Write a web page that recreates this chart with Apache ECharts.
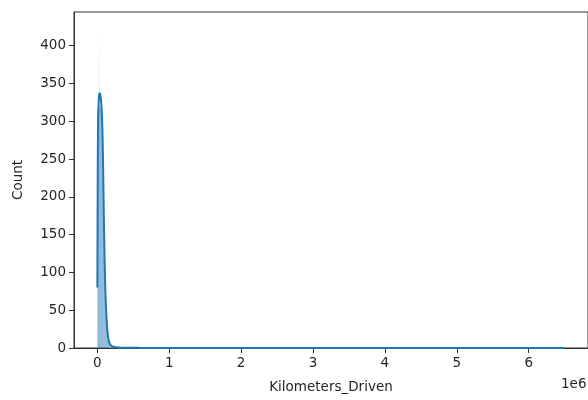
<!DOCTYPE html>
<html>
<head>
<meta charset="utf-8">
<script src="https://cdn.jsdelivr.net/npm/echarts@6/dist/echarts.min.js"></script>
<style>
  html, body { margin: 0; padding: 0; background: #fff; }
  #chart { width: 588px; height: 400px; }
</style>
</head>
<body>
<div id="chart"></div>
<script>
// ---------------- data (km / counts) ----------------
// histogram bins, 10000 km wide, start of each bin
var binStarts = [0, 10000, 20000, 30000, 40000, 50000, 60000, 70000, 80000, 90000,
                 100000, 110000, 120000, 130000, 140000, 150000, 160000, 170000, 180000, 190000, 200000];
var binCounts = [310, 325, 322, 320, 318, 315, 300, 270, 210, 150,
                 100, 70, 45, 30, 20, 12, 8, 5, 3, 2, 0];
// faint tall single bins (mostly hidden by white bar edges in the original)
var spikeStarts = [10000, 20000, 30000, 40000, 50000, 60000];
var spikeCounts = [360, 425, 390, 360, 330, 0];

// kde curve
var kdeX = [0, 5000, 10000, 20000, 30000, 40000, 50000, 60000, 70000, 80000, 90000,
            100000, 110000, 120000, 135000, 150000, 170000, 200000, 250000, 350000, 600000, 1000000,
            2000000, 3000000, 4000000, 5000000, 6000000, 6500000];
var kdeY = [80, 220, 300, 330, 337, 335, 328, 315, 290, 240, 175,
            120, 80, 55, 28, 14, 6, 2.5, 1, 0.4, 0.15, 0,
            0, 0, 0, 0, 0, 0];

var xTicks = [0, 1000000, 2000000, 3000000, 4000000, 5000000, 6000000];
var yTicks = [0, 50, 100, 150, 200, 250, 300, 350, 400];

// ---------------- chart ----------------
var chart = echarts.init(document.getElementById('chart'), null, { renderer: 'canvas' });

function pairs(xs, ys) {
    var out = [];
    for (var i = 0; i < xs.length; i++) out.push([xs[i], ys[i]]);
    return out;
}

var txt = { color: '#262626', fontFamily: 'DejaVu Sans', fontSize: 13.5 };
var axisCol = '#333';

option = {
    animation: false,
    backgroundColor: '#fff',
    grid: {
        left: 74, right: -2, top: 12, bottom: 52,
        show: true, borderColor: axisCol, borderWidth: 1, backgroundColor: 'transparent'
    },
    xAxis: {
        type: 'value',
        min: -325000,
        max: 6825000,
        name: 'Kilometers_Driven',
        nameLocation: 'middle',
        nameGap: 32,
        nameTextStyle: txt,
        axisLine: { show: true, onZero: false, lineStyle: { color: axisCol, width: 1 } },
        axisTick: { show: true, length: 5, lineStyle: { color: axisCol }, customValues: xTicks },
        axisLabel: Object.assign({
            margin: 8,
            customValues: xTicks,
            formatter: function (v) { return String(Math.round(v / 1e6)); }
        }, txt),
        splitLine: { show: false }
    },
    yAxis: {
        type: 'value',
        min: 0,
        max: 444.5,
        name: 'Count',
        nameLocation: 'middle',
        nameGap: 49,
        nameRotate: 90,
        nameTextStyle: txt,
        axisLine: { show: true, onZero: false, lineStyle: { color: axisCol, width: 1 } },
        axisTick: { show: true, length: 5, lineStyle: { color: axisCol }, customValues: yTicks },
        axisLabel: Object.assign({ margin: 8, customValues: yTicks }, txt),
        splitLine: { show: false }
    },
    graphic: [{
        type: 'text',
        left: 561,
        top: 377,
        style: { text: '1e6', fill: '#262626', font: '13.5px "DejaVu Sans"' }
    }],
    series: [
        {
            // faint tall bins
            type: 'line',
            step: 'end',
            showSymbol: false,
            data: pairs(spikeStarts, spikeCounts),
            lineStyle: { width: 0 },
            areaStyle: { color: 'rgba(31,119,180,0.08)' },
            silent: true
        },
        {
            // histogram
            type: 'line',
            step: 'end',
            showSymbol: false,
            data: pairs(binStarts, binCounts),
            lineStyle: { width: 0 },
            areaStyle: { color: 'rgba(31,119,180,0.68)' },
            silent: true
        },
        {
            // kde
            type: 'line',
            smooth: 0.3,
            showSymbol: false,
            data: pairs(kdeX, kdeY),
            lineStyle: { color: '#1f77b4', width: 2 },
            silent: true
        }
    ]
};
chart.setOption(option);
</script>
</body>
</html>
